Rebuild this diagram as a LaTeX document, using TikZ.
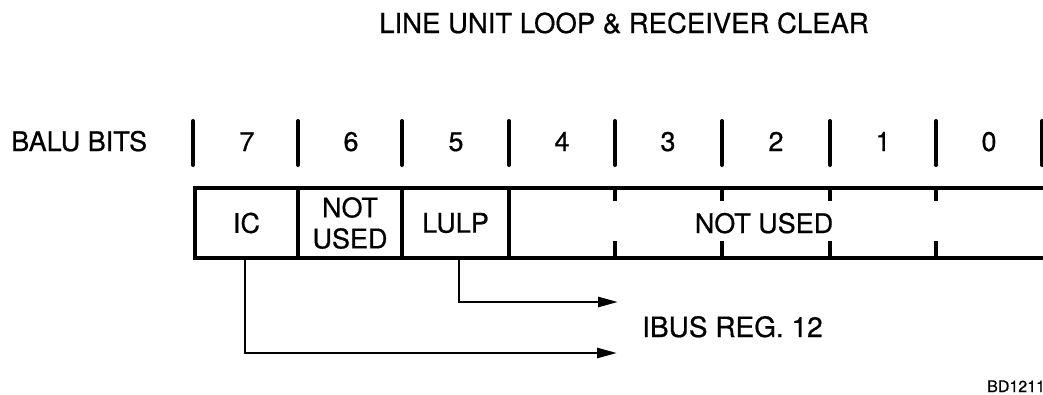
\documentclass[tikz,border=0pt]{standalone}
\usepackage{fontspec}
\setmainfont{TeX Gyre Heros}[FakeBold=0.6]
\usetikzlibrary{arrows.meta}
\begin{document}
\begin{tikzpicture}[x=1pt,y=-1pt,
  lbl/.style={font=\fontsize{27}{33}\selectfont, inner sep=0pt},
  sep/.style={line width=4pt, line cap=round},
  field/.style={draw, line width=3.6pt, rectangle, inner sep=0pt, minimum height=70pt,
    font=\fontsize{27}{31}\selectfont, align=center},
  tick/.style={line width=3.6pt},
  arrowline/.style={line width=2.8pt, -{Triangle[length=20pt,width=10pt]}}]
\useasboundingbox (0,0) rectangle (1043,394);
% title
\node[lbl, font=\fontsize{27.5}{33}\selectfont, anchor=base] (title) at (624,33) {LINE UNIT LOOP \& RECEIVER CLEAR};
% bit row
\node[lbl, anchor=base west] (balu) at (11,151) {BALU BITS};
\foreach \x in {193,298,402,509,615,722,830,936,1042}{
  \draw[sep] (\x,121) -- (\x,165);
}
\node[lbl, anchor=base] (b7) at (247,151) {7};
\node[lbl, anchor=base] (b6) at (351,151) {6};
\node[lbl, anchor=base] (b5) at (456,151) {5};
\node[lbl, anchor=base] (b4) at (562,151) {4};
\node[lbl, anchor=base] (b3) at (668,151) {3};
\node[lbl, anchor=base] (b2) at (776,151) {2};
\node[lbl, anchor=base] (b1) at (883,151) {1};
\node[lbl, anchor=base] (b0) at (989,151) {0};
% register fields
\node[field, minimum width=103pt] (ic) at (246.5,223) {IC};
\node[field, minimum width=104pt] (nu6) at (350,223) {NOT\\USED};
\node[field, minimum width=107pt] (lulp) at (455.5,223) {LULP};
\node[field, minimum width=560pt] (rest) at (789,223) {};
\node[lbl, anchor=base] (restlbl) at (764,233) {NOT USED};
\foreach \x in {615,722,830,936}{
  \draw[tick] (\x,188) -- (\x,201);
  \draw[tick] (\x,241) -- (\x,258);
}
% destination
\node[lbl, font=\fontsize{28}{33}\selectfont, anchor=base west] (ibus) at (642,337) {IBUS REG. 12};
\coordinate (lulpend) at (618,302);
\coordinate (icend) at (617,353);
\draw[arrowline] ([xshift=3.5pt]lulp.south) -- ([xshift=3.5pt]lulp.south |- lulpend) -- (lulpend);
\draw[arrowline] ([xshift=-1.5pt]ic.south) -- ([xshift=-1.5pt]ic.south |- icend) -- (icend);
\node[font=\fontsize{16}{18}\selectfont, inner sep=0pt, anchor=base west] (code) at (987,392) {BD1211};
\end{tikzpicture}
\end{document}
